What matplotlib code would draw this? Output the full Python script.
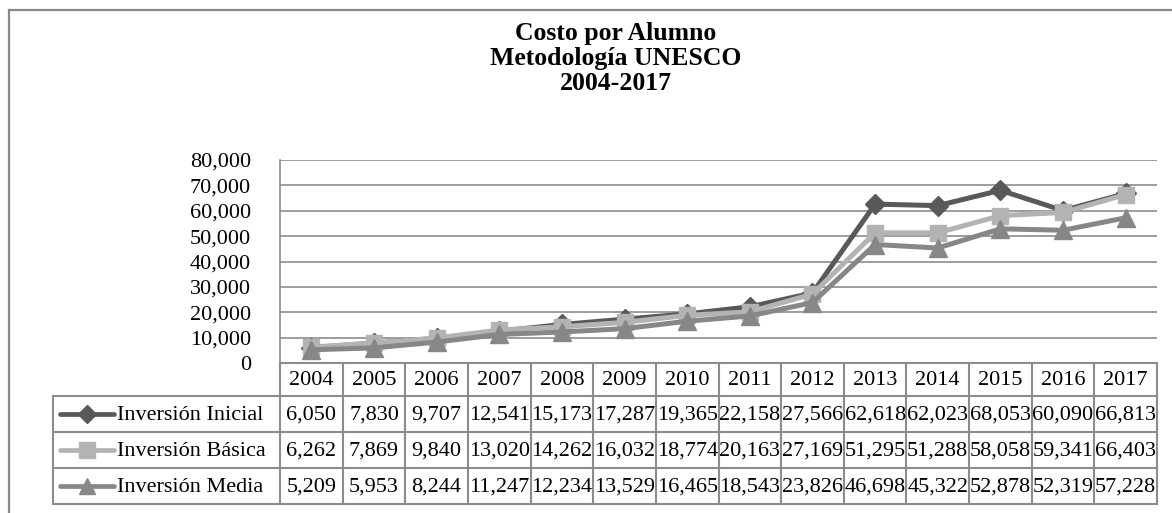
import matplotlib.pyplot as plt
import numpy as np

plt.rcParams['font.family'] = ['Liberation Serif', 'DejaVu Serif']

years = [2004, 2005, 2006, 2007, 2008, 2009, 2010, 2011, 2012, 2013, 2014, 2015, 2016, 2017]
inicial = [6050, 7830, 9707, 12541, 15173, 17287, 19365, 22158, 27566, 62618, 62023, 68053, 60090, 66813]
basica = [6262, 7869, 9840, 13020, 14262, 16032, 18774, 20163, 27169, 51295, 51288, 58058, 59341, 66403]
media = [5209, 5953, 8244, 11247, 12234, 13529, 16465, 18543, 23826, 46698, 45322, 52878, 52319, 57228]
names = ['Inversión Inicial', 'Inversión Básica', 'Inversión Media']
title_lines = ['Costo por Alumno', 'Metodología UNESCO', '2004-2017']

series = [inicial, basica, media]
colors = ['#595959', '#b3b3b3', '#878787']
markers = ['D', 's', '^']
msizes = [10, 12, 13]

W, H = 1172, 513
fig = plt.figure(figsize=(W / 100, H / 100), dpi=100)
grid_c = '#8c8c8c'
fs = 16

def fx(px):
    return px / W

def fy(py):
    return 1 - py / H

# outer chart border (runs off right and bottom)
fig.add_artist(plt.Rectangle((fx(9), fy(530)), fx(1300) - fx(9), fy(10) - fy(530),
                             transform=fig.transFigure, fill=False, ec='#888888', lw=1.6))

# title
for i, t in enumerate(title_lines):
    fig.text(fx(616), fy(40 + 25 * i), t, ha='center', va='baseline',
             fontsize=18.5, fontweight='bold')

# plot area
left, right, top, bottom = 280, 1157, 160, 363
ax = fig.add_axes([fx(left), fy(bottom), fx(right) - fx(left), fy(top) - fy(bottom)])
x = np.arange(len(years))
for s, c, m, ms in zip(series, colors, markers, msizes):
    ax.plot(x, s, color=c, lw=3.6, marker=m, ms=ms, mec=c, mfc=c, solid_joinstyle='miter')
ax.set_xlim(-0.5, len(years) - 0.5)
ax.set_ylim(0, 80000)
ax.set_yticks(np.arange(0, 80001, 10000))
ax.set_yticklabels([f'{v:,}' for v in range(0, 80001, 10000)], fontsize=fs)
ax.tick_params(axis='y', length=0, pad=21)
ax.set_xticks([])
for v in range(10000, 80001, 10000):
    ax.axhline(v, color=grid_c, lw=1.2, zorder=0)
for sp in ['top', 'right', 'bottom']:
    ax.spines[sp].set_visible(False)
ax.spines['left'].set_color(grid_c)
ax.spines['left'].set_linewidth(1.2)

# data table
tl, tr, ttop, tbot = 53, 1157, 363, 504
hdr_b = 396
rows = [hdr_b, 432, 468, 504]
axt = fig.add_axes([fx(tl), fy(tbot), fx(tr) - fx(tl), fy(ttop) - fy(tbot)])
axt.set_xlim(tl, tr)
axt.set_ylim(tbot, ttop)
axt.axis('off')
colw = (right - left) / len(years)
lc = dict(color=grid_c, lw=1.5, solid_capstyle='projecting', clip_on=False)
axt.plot([left, right], [ttop, ttop], **lc)
for r in rows:
    axt.plot([tl, right], [r, r], **lc)
axt.plot([tl, tl], [hdr_b, tbot], **lc)
for i in range(len(years) + 1):
    xx = left + i * colw
    axt.plot([xx, xx], [ttop, tbot], **lc)
for i, yv in enumerate(years):
    axt.text(left + (i + 0.5) * colw, (ttop + hdr_b) / 2 + 1, str(yv),
             ha='center', va='center', fontsize=fs)
for j, (s, nm, c, m, ms) in enumerate(zip(series, names, colors, markers, msizes)):
    yc = (rows[j] + rows[j + 1]) / 2
    axt.plot([60, 114], [yc, yc], color=c, lw=3.4, solid_capstyle='round', clip_on=False)
    axt.plot([87], [yc], marker=m, ms=ms - 1, color=c, clip_on=False)
    axt.text(117, yc + 1, nm, ha='left', va='center', fontsize=fs)
    for i, v in enumerate(s):
        axt.text(left + (i + 0.5) * colw, yc + 1, f'{v:,}', ha='center', va='center', fontsize=fs)

fig.savefig('out.png', dpi=100)
